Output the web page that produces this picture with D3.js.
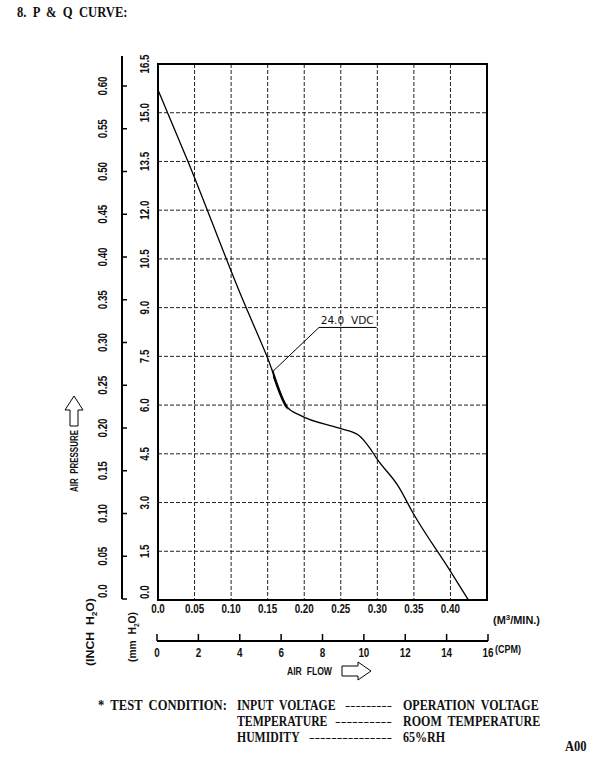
<!DOCTYPE html>
<html>
<head>
<meta charset="utf-8">
<script src="https://cdn.jsdelivr.net/npm/d3@7"></script>
<style>
  body { margin: 0; background: #fff; }
  text { fill: #111; white-space: pre; }
  .tk { font-family: "Liberation Sans", Arial, sans-serif; font-weight: bold; font-size: 12px; }
  .sf { font-family: "Liberation Serif", "DejaVu Serif", serif; font-weight: bold; }
</style>
</head>
<body>
<script>
// P & Q curve, 24.0 VDC
const flow = [0, 0.041, 0.116, 0.149, 0.176, 0.194, 0.249, 0.274, 0.29, 0.299, 0.329, 0.349, 0.399, 0.4245];
const pressure = [15.7, 13.5, 9.24, 7.5, 5.95, 5.69, 5.28, 5.08, 4.67, 4.36, 3.49, 2.67, 0.92, 0];

const flowTicks = [0, 0.05, 0.10, 0.15, 0.20, 0.25, 0.30, 0.35, 0.40];
const mmTicks = [0, 1.5, 3.0, 4.5, 6.0, 7.5, 9.0, 10.5, 12.0, 13.5, 15.0, 16.5];
const inchTicks = [0, 0.05, 0.10, 0.15, 0.20, 0.25, 0.30, 0.35, 0.40, 0.45, 0.50, 0.55, 0.60];
const cfmTicks = [0, 2, 4, 6, 8, 10, 12, 14, 16];

const testRows = [
  ["INPUT  VOLTAGE", "---------", "OPERATION  VOLTAGE"],
  ["TEMPERATURE", "----------", "ROOM  TEMPERATURE"],
  ["HUMIDITY", "---------------", "65%RH"]
];
const dashStart = [345, 335, 309];

const W = 613, H = 759;
const svg = d3.select("body").append("svg").attr("width", W).attr("height", H);
svg.append("rect").attr("width", W).attr("height", H).attr("fill", "#fff");

const x = d3.scaleLinear().domain([0, 0.45]).range([158, 487]);
const y = d3.scaleLinear().domain([0, 16.5]).range([600, 64]);
const yIn = d3.scaleLinear().domain([0, 0.60]).range([599, 86]);
const xCfm = d3.scaleLinear().domain([0, 16]).range([157, 488]);

// squeeze text horizontally (reference uses condensed faces)
function squeeze(sel, k) {
  sel.each(function () {
    const l = this.getComputedTextLength();
    d3.select(this).attr("textLength", l * k).attr("lengthAdjust", "spacingAndGlyphs");
  });
  return sel;
}
// condensed serif text placed with a scale transform
function narrow(parent, tx, ty, str, k) {
  return parent.append("text").attr("transform", `translate(${tx},${ty}) scale(${k},1)`).text(str);
}
const fmt2 = d => d === 0 ? "0.0" : d3.format(".2f")(d);

// title
squeeze(svg.append("text").attr("class", "sf").attr("x", 17).attr("y", 17)
  .style("font-size", "14px").text("8.  P  &  Q  CURVE:"), 0.9);

// grid
const g = svg.append("g");
g.selectAll(".vg").data(flowTicks.slice(1)).enter().append("line")
  .attr("x1", d => x(d)).attr("x2", d => x(d)).attr("y1", y(16.5)).attr("y2", y(0))
  .attr("stroke", "#222").attr("stroke-width", 1).attr("stroke-dasharray", "4,2");
g.selectAll(".hg").data(mmTicks.slice(1, -1)).enter().append("line")
  .attr("x1", x(0)).attr("x2", x(0.45)).attr("y1", d => y(d)).attr("y2", d => y(d))
  .attr("stroke", "#222").attr("stroke-width", 1).attr("stroke-dasharray", "4,2");
g.append("rect").attr("x", x(0)).attr("y", y(16.5))
  .attr("width", x(0.45) - x(0)).attr("height", y(0) - y(16.5))
  .attr("fill", "none").attr("stroke", "#000").attr("stroke-width", 2);

// mm labels (rotated)
squeeze(svg.selectAll(".mml").data(mmTicks).enter().append("text").attr("class", "tk")
  .attr("transform", d => `translate(149,${d === 0 ? y(d) - 1 : y(d)}) rotate(-90)`)
  .attr("text-anchor", d => d === 0 ? "start" : "middle").text(d => d3.format(".1f")(d)), 0.82);

// inch axis
svg.append("line").attr("x1", 122).attr("x2", 122).attr("y1", yIn(0)).attr("y2", 56)
  .attr("stroke", "#000").attr("stroke-width", 2);
svg.selectAll(".itk").data(inchTicks).enter().append("line")
  .attr("x1", 122).attr("x2", 127).attr("y1", d => yIn(d)).attr("y2", d => yIn(d))
  .attr("stroke", "#000").attr("stroke-width", 1.5);
squeeze(svg.selectAll(".inl").data(inchTicks).enter().append("text").attr("class", "tk")
  .attr("transform", d => `translate(107,${d === 0 ? yIn(d) - 1 : yIn(d)}) rotate(-90)`)
  .attr("text-anchor", d => d === 0 ? "start" : "middle").text(fmt2), 0.82);

// flow labels
squeeze(svg.selectAll(".fl").data(flowTicks).enter().append("text").attr("class", "tk")
  .attr("x", d => x(d)).attr("y", 613).attr("text-anchor", "middle").text(fmt2), 0.82);
const mu = svg.append("text").attr("class", "tk").attr("x", 493).attr("y", 624)
  .style("font-size", "11px");
mu.append("tspan").text("(M");
mu.append("tspan").attr("dy", -4).style("font-size", "8px").text("3");
mu.append("tspan").attr("dy", 4).text("/MIN.)");
mu.attr("textLength", 47).attr("lengthAdjust", "spacingAndGlyphs");

// cfm axis
svg.append("line").attr("x1", xCfm(0)).attr("x2", xCfm(16)).attr("y1", 641).attr("y2", 641)
  .attr("stroke", "#000").attr("stroke-width", 2);
svg.selectAll(".ctk").data(cfmTicks).enter().append("line")
  .attr("x1", d => xCfm(d)).attr("x2", d => xCfm(d)).attr("y1", 641).attr("y2", 634)
  .attr("stroke", "#000").attr("stroke-width", 1.5);
squeeze(svg.selectAll(".cl").data(cfmTicks).enter().append("text").attr("class", "tk")
  .attr("x", d => xCfm(d)).attr("y", 657).attr("text-anchor", "middle").text(d => d), 0.82);
svg.append("text").attr("class", "tk").attr("x", 495).attr("y", 653)
  .style("font-size", "10px").attr("textLength", 26).attr("lengthAdjust", "spacingAndGlyphs")
  .text("(CPM)");

// axis titles
svg.append("text").attr("class", "tk").attr("x", 287).attr("y", 675)
  .style("font-size", "11px").attr("textLength", 45).attr("lengthAdjust", "spacingAndGlyphs")
  .text("AIR  FLOW");
svg.append("path")
  .attr("d", "M342,666 H358 V662 L371,671 L358,680 V676 H342 Z")
  .attr("fill", "#fff").attr("stroke", "#000").attr("stroke-width", 1);
svg.append("text").attr("class", "tk")
  .attr("transform", "translate(78,461) rotate(-90)").attr("text-anchor", "middle")
  .style("font-size", "11px").attr("textLength", 62).attr("lengthAdjust", "spacingAndGlyphs")
  .text("AIR  PRESSURE");
svg.append("path")
  .attr("d", "M70,426 V410 H65 L74,396 L83,410 H78 V426 Z")
  .attr("fill", "#fff").attr("stroke", "#000").attr("stroke-width", 1);

function unitLabel(tx, ty, pre, post, len) {
  const t = svg.append("text").attr("class", "tk")
    .attr("transform", `translate(${tx},${ty}) rotate(-90)`).attr("text-anchor", "middle")
    .style("font-size", "11px");
  t.append("tspan").text(pre);
  t.append("tspan").attr("dy", 3).style("font-size", "7px").text("2");
  t.append("tspan").attr("dy", -3).text(post);
  t.attr("textLength", len).attr("lengthAdjust", "spacingAndGlyphs");
}
unitLabel(94, 632, "(INCH  H", "O)", 68);
unitLabel(136, 637, "(mm  H", "O)", 50);

// curve
const pts = flow.map((f, i) => [f, pressure[i]]);
const line = d3.line().x(d => x(d[0])).y(d => y(d[1])).curve(d3.curveMonotoneX);
svg.append("path").attr("d", line(pts)).attr("fill", "none")
  .attr("stroke", "#000").attr("stroke-width", 1.3);
svg.append("clipPath").attr("id", "bold").append("rect")
  .attr("x", x(0.157)).attr("y", 0).attr("width", x(0.177) - x(0.157)).attr("height", H);
svg.append("path").attr("d", line(pts)).attr("fill", "none").attr("clip-path", "url(#bold)")
  .attr("stroke", "#000").attr("stroke-width", 2.6);

// annotation
const ann = [[0.1577, 7.05], [0.2202, 8.39], [0.299, 8.39]];
svg.append("path").attr("d", d3.line().x(d => x(d[0])).y(d => y(d[1]))(ann))
  .attr("fill", "none").attr("stroke", "#000").attr("stroke-width", 1);
svg.append("text").attr("x", x(0.2225)).attr("y", y(8.39) - 3)
  .style("font-family", "DejaVu Sans, sans-serif").style("font-size", "11px")
  .attr("textLength", 53).attr("lengthAdjust", "spacingAndGlyphs").text("24.0  VDC");

// test condition
const tc = svg.append("g").attr("class", "sf").style("font-size", "14px");
narrow(tc, 98, 710, "*  TEST  CONDITION:", 0.9);
testRows.forEach((r, i) => {
  const yy = 710 + i * 16;
  narrow(tc, 237, yy, r[0], 0.84);
  tc.append("text").attr("x", dashStart[i]).attr("y", yy)
    .style("font-weight", "normal").style("font-size", "12px")
    .attr("textLength", 392 - dashStart[i]).attr("lengthAdjust", "spacingAndGlyphs")
    .text(r[1]);
  narrow(tc, 403, yy, r[2], 0.86);
});
narrow(svg.append("g").attr("class", "sf").style("font-size", "14px"), 565, 751, "A00", 0.9);
</script>
</body>
</html>
